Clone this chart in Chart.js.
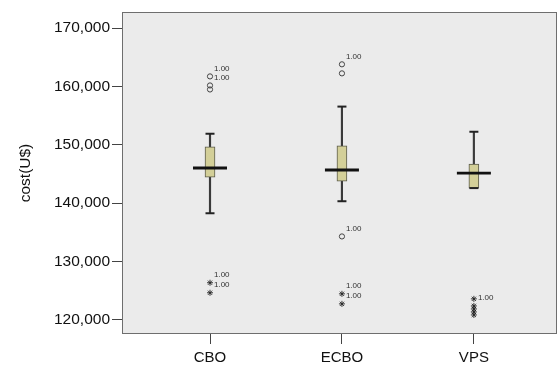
<!DOCTYPE html>
<html>
<head>
<meta charset="utf-8">
<script src="https://cdn.jsdelivr.net/npm/chart.js@4.4.1/dist/chart.umd.min.js"></script>
<style>
  html, body { margin: 0; padding: 0; background: #fff; }
  #wrap { width: 558px; height: 367px; }
</style>
</head>
<body>
<div id="wrap"><canvas id="chart"></canvas></div>
<script>
// categories and box summaries (cost in U$)
const categories = ['CBO', 'ECBO', 'VPS'];
const q1 = [144480, 143790, 142590];
const q3 = [149650, 149830, 146720];
const medians = [146030, 145690, 145170];
const whiskerLow = [138280, 140340, 142590];
const whiskerHigh = [151900, 156550, 152240];

// outliers: circles (mild) and stars (extreme), with their case labels
const cboCircles = [161720, 160170, 159480];
const cboCircleLabels = ['1.00', '1.00', ''];
const ecboCircles = [163790, 162240, 134310];
const ecboCircleLabels = ['1.00', '', '1.00'];
const cboStars = [126380, 124660];
const cboStarLabels = ['1.00', '1.00'];
const ecboStars = [124480, 122760];
const ecboStarLabels = ['1.00', '1.00'];
const vpsStars = [123620, 122410, 121900, 121380, 120860];
const vpsStarLabels = ['', '1.00', '', '', ''];

const yTicks = [120000, 130000, 140000, 150000, 160000, 170000];

// helpers to turn the arrays into points
const pos = (i) => i + 1;
const pts = (i, values) => values.map(v => ({ x: pos(i), y: v }));

const frame = {
    id: 'frame',
    beforeDatasetsDraw(chart) {
        const a = chart.chartArea;
        const ctx = chart.ctx;
        ctx.save();
        ctx.fillStyle = '#ebebeb';
        ctx.fillRect(a.left, a.top, a.right - a.left, a.bottom - a.top);
        ctx.strokeStyle = '#6e6e6e';
        ctx.lineWidth = 1;
        ctx.strokeRect(a.left + 0.5, a.top + 0.5, a.right - a.left - 1, a.bottom - a.top - 1);
        ctx.restore();
    }
};

const outlierLabels = {
    id: 'outlierLabels',
    afterDatasetsDraw(chart) {
        const ctx = chart.ctx;
        ctx.save();
        ctx.font = '8px "Liberation Sans", Arial, sans-serif';
        ctx.fillStyle = '#333';
        ctx.textBaseline = 'middle';
        chart.data.datasets.forEach((ds, di) => {
            if (!ds.caseLabels) return;
            chart.getDatasetMeta(di).data.forEach((el, i) => {
                const t = ds.caseLabels[i];
                if (t) ctx.fillText(t, el.x + 4, el.y - 8);
            });
        });
        ctx.restore();
    }
};

const datasets = [];

// whiskers
datasets.push({
    type: 'bar',
    data: categories.map((c, i) => ({ x: pos(i), y: [whiskerLow[i], whiskerHigh[i]] })),
    backgroundColor: '#3a3a3a',
    barThickness: 1.5,
    grouped: false,
    order: 6
});

// boxes
datasets.push({
    type: 'bar',
    data: categories.map((c, i) => ({ x: pos(i), y: [q1[i], q3[i]] })),
    backgroundColor: '#d3cf98',
    borderColor: '#5a5a4a',
    borderWidth: 1,
    borderSkipped: false,
    barThickness: 10,
    grouped: false,
    order: 5
});

// whisker caps
datasets.push({
    type: 'scatter',
    data: categories.map((c, i) => ({ x: pos(i), y: whiskerLow[i] }))
        .concat(categories.map((c, i) => ({ x: pos(i), y: whiskerHigh[i] }))),
    pointStyle: 'line',
    pointRadius: 4.5,
    borderColor: '#222',
    borderWidth: 2,
    order: 4
});

// medians
datasets.push({
    type: 'scatter',
    data: categories.map((c, i) => ({ x: pos(i), y: medians[i] })),
    pointStyle: 'line',
    pointRadius: 17,
    borderColor: '#111',
    borderWidth: 2.8,
    order: 3
});

// mild outliers
[[0, cboCircles, cboCircleLabels], [1, ecboCircles, ecboCircleLabels]].forEach(([i, vals, labs]) => {
    datasets.push({
        type: 'scatter',
        data: pts(i, vals),
        caseLabels: labs,
        pointStyle: 'circle',
        pointRadius: 2.6,
        backgroundColor: 'rgba(0,0,0,0)',
        borderColor: '#444',
        borderWidth: 1,
        order: 2
    });
});

// extreme outliers
[[0, cboStars, cboStarLabels], [1, ecboStars, ecboStarLabels], [2, vpsStars, vpsStarLabels]].forEach(([i, vals, labs]) => {
    datasets.push({
        type: 'scatter',
        data: pts(i, vals),
        caseLabels: labs,
        pointStyle: 'star',
        pointRadius: 3,
        borderColor: '#222',
        borderWidth: 0.9,
        order: 1
    });
});

new Chart(document.getElementById('chart'), {
    type: 'bar',
    data: { datasets: datasets },
    plugins: [frame, outlierLabels],
    options: {
        responsive: true,
        maintainAspectRatio: false,
        animation: false,
        layout: { autoPadding: false, padding: { top: 12, right: 1, left: 0, bottom: 0 } },
        plugins: {
            legend: { display: false },
            tooltip: { enabled: false }
        },
        scales: {
            x: {
                type: 'linear',
                offset: false,
                min: 0.333,
                max: 3.63,
                afterBuildTicks: (scale) => {
                    scale.ticks = categories.map((c, i) => ({ value: pos(i) }));
                },
                afterFit: (scale) => {
                    scale.height = 33;
                    scale.paddingLeft = 0;
                    scale.paddingRight = 0;
                },
                ticks: {
                    callback: (v) => categories[v - 1],
                    color: '#111',
                    font: { family: '"Liberation Sans", Arial, sans-serif', size: 15 },
                    padding: 5,
                    maxRotation: 0,
                    autoSkip: false
                },
                grid: { offset: false, drawOnChartArea: false, tickLength: 10, tickColor: '#444', lineWidth: 1 },
                border: { display: false }
            },
            y: {
                type: 'linear',
                min: 117600,
                max: 172750,
                afterBuildTicks: (scale) => {
                    scale.ticks = yTicks.map(v => ({ value: v }));
                },
                afterFit: (scale) => {
                    scale.width = 122;
                    scale.paddingTop = 0;
                    scale.paddingBottom = 0;
                },
                ticks: {
                    callback: (v) => v.toLocaleString('en-US'),
                    color: '#111',
                    font: { family: '"Liberation Sans", Arial, sans-serif', size: 15.5 },
                    padding: 2
                },
                grid: { drawOnChartArea: false, tickLength: 10, tickColor: '#444', lineWidth: 1 },
                border: { display: false },
                title: {
                    display: true,
                    text: 'cost(U$)',
                    color: '#111',
                    font: { family: '"Liberation Sans", Arial, sans-serif', size: 15.5 },
                    padding: { top: 16, bottom: 0 }
                }
            }
        }
    }
});
</script>
</body>
</html>
